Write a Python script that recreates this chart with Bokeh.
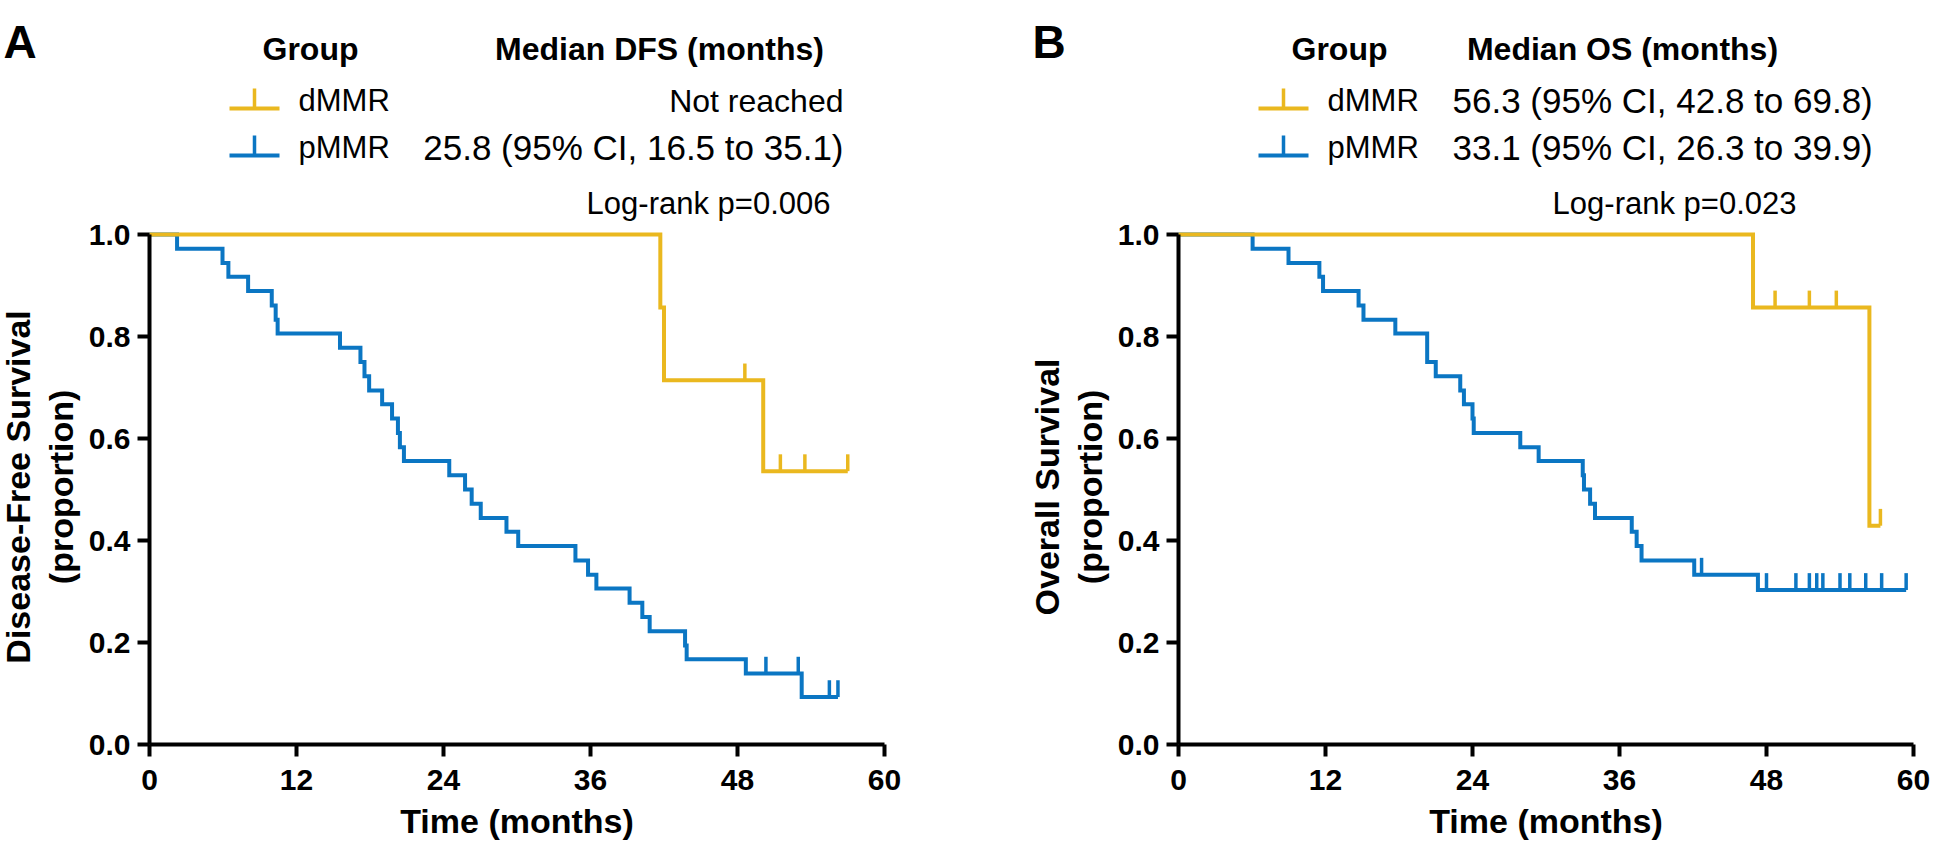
import math
from bokeh.plotting import figure
from bokeh.models import Label, FixedTicker, Range1d, NumeralTickFormatter
from bokeh.layouts import row
from bokeh.embed import file_html
from bokeh.resources import INLINE

# ---------------- data ----------------
month_ticks = [0, 12, 24, 36, 48, 60]
surv_ticks = [0.0, 0.2, 0.4, 0.6, 0.8, 1.0]
groups = ["dMMR", "pMMR"]

# Panel A: disease-free survival
dfs_dmmr_t = [0, 41.7, 42.0, 50.1, 57.0]
dfs_dmmr_s = [1.0, 0.857, 0.714, 0.536, 0.536]
dfs_dmmr_cens_t = [48.6, 51.5, 53.5, 57.0]
dfs_dmmr_cens_s = [0.714, 0.536, 0.536, 0.536]

dfs_pmmr_t = [0, 2.25, 5.96, 6.44, 8.05, 9.98, 10.30, 10.46, 15.55, 17.22,
              17.55, 17.93, 18.99, 19.80, 20.28, 20.44, 20.77, 24.47, 25.76, 26.30,
              27.04, 29.14, 30.10, 34.77, 35.80, 36.48, 39.19, 40.23, 40.83, 43.72,
              43.85, 48.68, 53.24, 56.2]
dfs_pmmr_s = [1.0, 0.972, 0.944, 0.917, 0.889, 0.861, 0.833, 0.806, 0.778, 0.750,
              0.722, 0.694, 0.667, 0.639, 0.611, 0.583, 0.556, 0.528, 0.500, 0.472,
              0.444, 0.417, 0.389, 0.361, 0.333, 0.306, 0.278, 0.250, 0.222, 0.194,
              0.167, 0.139, 0.093, 0.093]
dfs_pmmr_cens_t = [50.32, 52.96, 55.5, 56.2]
dfs_pmmr_cens_s = [0.139, 0.139, 0.093, 0.093]

# Panel B: overall survival
os_dmmr_t = [0, 46.9, 56.4, 57.3]
os_dmmr_s = [1.0, 0.857, 0.429, 0.429]
os_dmmr_cens_t = [48.7, 51.5, 53.7, 57.3]
os_dmmr_cens_s = [0.857, 0.857, 0.857, 0.429]

os_pmmr_t = [0, 6.05, 8.98, 11.5, 11.8, 14.7, 15.1, 17.7, 20.3, 21.0,
             23.0, 23.3, 24.0, 24.1, 27.9, 29.4, 33.0, 33.1, 33.6, 34.0,
             37.0, 37.4, 37.8, 42.1, 47.3, 59.4]
os_pmmr_s = [1.0, 0.972, 0.944, 0.917, 0.889, 0.861, 0.833, 0.806, 0.750, 0.722,
             0.694, 0.667, 0.639, 0.611, 0.583, 0.556, 0.528, 0.500, 0.472, 0.444,
             0.417, 0.389, 0.361, 0.333, 0.303, 0.303]
os_pmmr_cens_t = [42.7, 48.0, 50.4, 51.5, 52.1, 52.6, 54.0, 54.8, 56.1, 57.4, 59.4]
os_pmmr_cens_s = [0.333, 0.303, 0.303, 0.303, 0.303, 0.303, 0.303, 0.303, 0.303, 0.303, 0.303]

dfs_median_text = ["Not reached", "25.8 (95% CI, 16.5 to 35.1)"]
os_median_text = ["56.3 (95% CI, 42.8 to 69.8)", "33.1 (95% CI, 26.3 to 39.9)"]

# ---------------- style / layout ----------------
YELLOW = "#EAB81F"
BLUE = "#0B76C3"
FONT = "Liberation Sans"
INK = "black"
PXM = 735 / 60.0          # px per month
PX_PER_UNIT_Y = 510.0     # px per survival unit
BOTTOM_PAGE = 752         # page y of survival 0
PAGE_TOP = 8
PAGE_BOTTOM = 851


def make_panel(letter, fig_left_page, fig_width, axis_left_page, ytitle,
               header2, median_texts, median_align, median_x, median_size,
               logrank, logrank_x, curves):
    ymax = (BOTTOM_PAGE - PAGE_TOP) / PX_PER_UNIT_Y
    ymin = -(PAGE_BOTTOM - BOTTOM_PAGE) / PX_PER_UNIT_Y
    xmin = -(axis_left_page - fig_left_page) / PXM
    xmax = xmin + fig_width / PXM
    p = figure(frame_width=fig_width, frame_height=PAGE_BOTTOM - PAGE_TOP,
               x_range=Range1d(xmin, xmax), y_range=Range1d(ymin, ymax),
               output_backend="svg", toolbar_location=None,
               min_border_left=0, min_border_right=0,
               min_border_top=0, min_border_bottom=0)
    p.outline_line_color = None
    p.xgrid.visible = False
    p.ygrid.visible = False
    p.background_fill_color = "white"
    p.border_fill_color = "white"

    def xd(px):
        return (px - axis_left_page) / PXM

    def yd(py):
        return (BOTTOM_PAGE - py) / PX_PER_UNIT_Y

    for ax in (p.xaxis[0], p.yaxis[0]):
        ax.axis_line_width = 4
        ax.axis_line_color = INK
        ax.major_tick_line_width = 4
        ax.major_tick_line_color = INK
        ax.major_tick_out = 12
        ax.major_tick_in = 0
        ax.minor_tick_line_color = None
        ax.major_label_text_font = FONT
        ax.major_label_text_font_style = "bold"
        ax.major_label_text_font_size = "30px"
        ax.major_label_text_color = INK
        ax.axis_label_text_font = FONT
        ax.axis_label_text_font_style = "bold"
        ax.axis_label_text_font_size = "34px"
        ax.axis_label_text_color = INK
    p.xaxis.ticker = FixedTicker(ticks=month_ticks)
    p.yaxis.ticker = FixedTicker(ticks=surv_ticks)
    p.yaxis.formatter = NumeralTickFormatter(format="0.0")
    p.xaxis.bounds = (0, 60)
    p.yaxis.bounds = (0, 1)
    p.yaxis.fixed_location = 0
    p.xaxis.fixed_location = 0
    p.xaxis.axis_label = "Time (months)"
    p.xaxis.major_label_standoff = 13
    p.xaxis.axis_label_standoff = 9
    p.yaxis.major_label_standoff = 7

    # y-axis title (two centred lines, rotated)
    for txt, off in zip(ytitle, (132, 89)):
        p.add_layout(Label(x=xd(axis_left_page - off), y=0.505, text=txt, angle=math.pi / 2,
                           text_font=FONT, text_font_style="bold", text_font_size="34px",
                           text_align="center", text_baseline="middle", text_color=INK))

    # curves: blue first, yellow on top
    for (t, s, ct, cs, col) in curves:
        p.step(t, s, mode="after", line_color=col, line_width=4, line_join="miter")
        p.segment(x0=ct, y0=cs, x1=ct, y1=[v + 0.033 for v in cs],
                  line_color=col, line_width=3.5)

    # panel letter
    p.add_layout(Label(x=xd(axis_left_page - 146), y=yd(49), text=letter,
                       text_font=FONT, text_font_style="bold", text_font_size="46px",
                       text_align="left", text_baseline="alphabetic", text_color=INK))

    # legend header
    hdr_y = 56
    p.add_layout(Label(x=xd(axis_left_page + 161), y=yd(hdr_y), text="Group", text_font=FONT,
                       text_font_style="bold", text_font_size="32px", text_color=INK,
                       text_align="center", text_baseline="middle"))
    p.add_layout(Label(x=xd(header2[1]), y=yd(hdr_y), text=header2[0], text_font=FONT,
                       text_font_style="bold", text_font_size="32px", text_color=INK,
                       text_align="center", text_baseline="middle"))

    row_y = [108, 155]
    cols = [YELLOW, BLUE]
    sym_l = axis_left_page + 80
    sym_r = axis_left_page + 130
    for i, g in enumerate(groups):
        yb = row_y[i] + 8
        p.segment(x0=[xd(sym_l)], y0=[yd(yb)], x1=[xd(sym_r)], y1=[yd(yb)],
                  line_color=cols[i], line_width=4)
        p.segment(x0=[xd((sym_l + sym_r) / 2)], y0=[yd(yb)],
                  x1=[xd((sym_l + sym_r) / 2)], y1=[yd(yb - 20)],
                  line_color=cols[i], line_width=3.5)
        p.add_layout(Label(x=xd(axis_left_page + 149), y=yd(row_y[i]), text=g,
                           text_font=FONT, text_font_size="31px", text_color=INK,
                           text_align="left", text_baseline="middle"))
        p.add_layout(Label(x=xd(median_x), y=yd(row_y[i]), text=median_texts[i],
                           text_font=FONT, text_font_size=median_size[i], text_color=INK,
                           text_align=median_align, text_baseline="middle"))
    p.add_layout(Label(x=xd(logrank_x), y=yd(211), text=logrank,
                       text_font=FONT, text_font_size="31px", text_color=INK,
                       text_align="right", text_baseline="middle"))
    return p


A_AXIS = 157
B_AXIS = 1186
B_FIG_LEFT = 1000
pA = make_panel("A", 8, B_FIG_LEFT - 8, A_AXIS,
                ("Disease-Free Survival", "(proportion)"),
                ("Median DFS (months)", 667), dfs_median_text, "right", 851,
                ["32px", "35px"],
                "Log-rank p=0.006", 838,
                [(dfs_pmmr_t, dfs_pmmr_s, dfs_pmmr_cens_t, dfs_pmmr_cens_s, BLUE),
                 (dfs_dmmr_t, dfs_dmmr_s, dfs_dmmr_cens_t, dfs_dmmr_cens_s, YELLOW)])
pB = make_panel("B", B_FIG_LEFT, 1938 - B_FIG_LEFT, B_AXIS,
                ("Overall Survival", "(proportion)"),
                ("Median OS (months)", 1630), os_median_text, "left", 1460,
                ["35px", "35px"],
                "Log-rank p=0.023", 1804,
                [(os_pmmr_t, os_pmmr_s, os_pmmr_cens_t, os_pmmr_cens_s, BLUE),
                 (os_dmmr_t, os_dmmr_s, os_dmmr_cens_t, os_dmmr_cens_s, YELLOW)])

layout = row(pA, pB)
open("out.html", "w").write(file_html(layout, INLINE))
